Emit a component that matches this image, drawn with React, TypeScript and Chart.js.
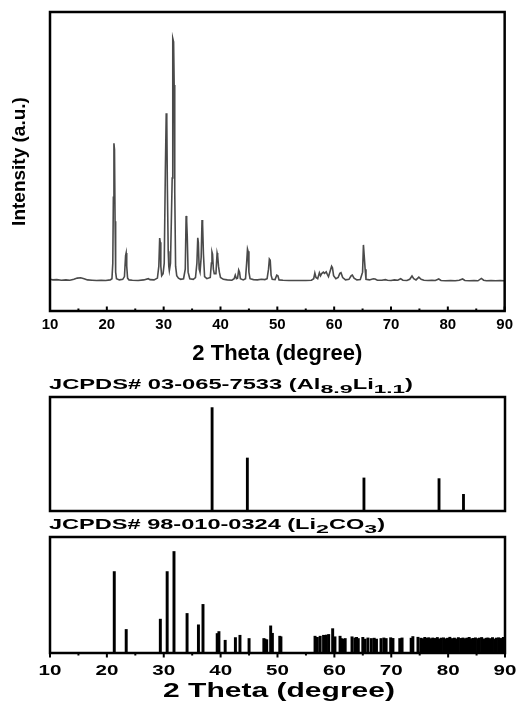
import { useEffect, useRef } from 'react';
import { Chart, registerables } from 'chart.js';

Chart.register(...registerables);

const FONT = '"Liberation Sans", Arial, Helvetica, sans-serif';

// ---------- data ----------
const xTickValues = [10, 20, 30, 40, 50, 60, 70, 80, 90];
const xTickLabels = ['10', '20', '30', '40', '50', '60', '70', '80', '90'];
const xAxisTitle = '2 Theta (degree)';
const yAxisTitle = 'Intensity (a.u.)';

// measured XRD pattern (2θ, intensity a.u.)
const xrdTheta = [
  10.0, 10.5, 11.2, 12.0, 12.8, 13.5, 14.2, 14.8, 15.4, 16.0, 16.6, 17.4, 18.2, 19.0, 19.8, 20.6,
  20.9, 21.05, 21.15, 21.25, 21.35, 21.45, 21.55, 21.7, 22.2, 22.8, 23.1, 23.3, 23.4, 23.5, 23.65,
  23.9, 24.5, 25.5, 26.5, 27.3, 27.6, 28.3, 28.9, 29.15, 29.3, 29.4, 29.5, 29.65, 29.9, 30.1, 30.3,
  30.45, 30.55, 30.65, 30.8, 30.9, 31.0, 31.2, 31.35, 31.5, 31.6, 31.75, 31.85, 31.95, 32.1, 32.3,
  32.6, 33.0, 33.5, 33.8, 33.95, 34.05, 34.15, 34.3, 34.6, 35.2, 35.6, 35.85, 36.0, 36.1, 36.25,
  36.4, 36.6, 36.75, 36.85, 37.0, 37.2, 37.6, 38.2, 38.4, 38.5, 38.6, 38.75, 38.9, 39.2, 39.4, 39.5,
  39.65, 39.8, 40.0, 40.5, 41.2, 42.0, 42.4, 42.6, 42.8, 43.0, 43.2, 43.35, 43.5, 44.0, 44.4, 44.6,
  44.75, 44.85, 45.0, 45.2, 45.8, 46.5, 47.2, 47.8, 48.2, 48.45, 48.6, 48.75, 48.9, 49.1, 49.6,
  49.9, 50.1, 50.3, 51.0, 52.0, 53.0, 54.0, 55.0, 56.0, 56.4, 56.6, 56.8, 57.1, 57.4, 57.6, 57.8,
  58.1, 58.3, 58.6, 58.8, 59.0, 59.3, 59.55, 59.7, 59.9, 60.3, 60.7, 61.0, 61.2, 61.5, 62.0, 62.6,
  63.0, 63.2, 63.5, 64.0, 64.6, 65.0, 65.15, 65.3, 65.45, 65.6, 66.2, 66.9, 67.2, 67.6, 68.4, 69.0,
  69.4, 70.0, 70.6, 71.2, 71.7, 72.1, 72.8, 73.3, 73.7, 74.0, 74.4, 74.9, 75.3, 75.8, 76.5, 77.2,
  77.8, 78.4, 78.8, 79.6, 80.5, 81.3, 82.0, 82.6, 83.0, 83.8, 84.6, 85.3, 85.9, 86.3, 86.8, 87.6,
  88.4, 89.2, 90.0,
];
const xrdIntensity = [
  106, 104, 105, 103, 104, 103, 106, 110, 111, 108, 104, 103, 102, 103, 102, 104,
  108, 160, 380, 561, 540, 300, 130, 108, 104, 106, 115, 185, 194, 150, 110,
  104, 103, 102, 104, 108, 105, 104, 110, 150, 244, 230, 150, 118, 125, 160, 472,
  661, 640, 420, 200, 150, 135, 160, 300, 445, 912, 900, 756, 400, 150, 118,
  110, 106, 108, 140, 318, 300, 250, 130, 108, 106, 112, 160, 245, 230, 140,
  130, 180, 304, 290, 190, 115, 108, 112, 160, 197, 190, 140, 125, 125, 194, 185,
  150, 130, 112, 106, 104, 103, 108, 120, 108, 110, 137, 130, 108, 104, 108, 160,
  207, 200, 130, 108, 105, 104, 106, 105, 108, 140, 174, 170, 120, 106, 105,
  120, 118, 104, 103, 102, 102, 102, 102, 103, 108, 127, 112, 108, 128, 118, 125,
  130, 126, 131, 122, 115, 134, 150, 145, 118, 108, 112, 126, 128, 112, 104, 106,
  118, 120, 110, 104, 105, 130, 221, 181, 140, 106, 104, 108, 107, 103, 103, 105,
  103, 102, 104, 103, 108, 103, 102, 106, 117, 108, 104, 113, 106, 103, 102, 103,
  102, 107, 102, 101, 102, 101, 103, 107, 102, 101, 102, 101, 109, 103, 101, 102,
  101, 102, 101,
];

// JCPDS# 03-065-7533 (Al8.9Li1.1) reference lines (2θ, relative intensity %)
const alLiTheta = [38.5, 44.7, 65.2, 78.4, 82.7];
const alLiIntensity = [90.7, 46.5, 29, 28.4, 14.6];

// JCPDS# 98-010-0324 (Li2CO3) reference lines (2θ, relative intensity %)
const li2co3Theta = [
  21.3, 23.4, 29.4, 30.6, 31.8, 34.1, 36.1, 36.9, 39.4, 39.7, 40.8, 42.6, 43.4, 45.0, 47.6, 47.8,
  48.1, 48.8, 49.1, 50.4, 50.6, 56.6, 57.0, 57.5, 58.1, 58.3, 58.6, 59.0, 59.7, 60.1, 61.0, 61.2,
  61.6, 61.9, 63.1, 63.6, 63.9, 64.2, 65.0, 65.4, 65.9, 66.5, 67.0, 67.4, 68.2, 68.7, 69.1, 69.9,
  70.3, 71.5, 71.9, 73.5, 73.8, 74.7, 75.2, 75.6, 75.9, 76.3, 76.6, 77.0, 77.3, 77.7, 78.1, 78.4,
  78.8, 79.2, 79.6, 79.9, 80.3, 80.7, 81.1, 81.4, 81.8, 82.2, 82.6, 82.9, 83.3, 83.7, 84.0, 84.4,
  84.8, 85.2, 85.5, 85.9, 86.3, 86.7, 87.0, 87.4, 87.8, 88.2, 88.5, 88.9, 89.3, 89.7,
];
const li2co3Intensity = [
  70.2, 20.3, 29.2, 70.2, 87.5, 34.1, 24.3, 41.9, 16.8, 18.5, 11, 13.3, 15.3, 12.5, 12.5, 12,
  11.5, 23.4, 17, 14.5, 14, 14.5, 13.5, 14.5, 15.3, 14, 15.5, 16, 21, 14, 14.5, 12.5,
  12, 12.5, 14, 13, 13.5, 12.5, 13.5, 12, 13, 12.5, 12.8, 12, 12.5, 13, 12.5, 13.2,
  12.6, 12.5, 13, 12.8, 14.2, 13.6, 12.8, 12.4, 13.5, 12.8, 13.2, 12.4, 13.0, 12.6, 13.4, 12.2,
  12.9, 13.1, 12.3, 12.8, 13.6, 12.5, 12.9, 12.2, 13.3, 12.6, 13.0, 12.4, 12.9, 13.5, 12.3, 12.7,
  13.1, 12.4, 12.9, 13.4, 12.2, 12.8, 13.0, 12.5, 13.3, 12.1, 12.9, 13.2, 12.6, 13.5,
];

// ---------- helpers ----------
type Seg = { t: string; size: number; sx: number; sy?: number; dy?: number };

function drawSegs(ctx: CanvasRenderingContext2D, segs: Seg[], x: number, y: number, align: 'left' | 'center' = 'left') {
  let total = 0;
  for (const s of segs) {
    ctx.font = `bold ${s.size}px ${FONT}`;
    total += ctx.measureText(s.t).width * s.sx;
  }
  let cx = align === 'center' ? x - total / 2 : x;
  for (const s of segs) {
    ctx.save();
    ctx.font = `bold ${s.size}px ${FONT}`;
    ctx.fillStyle = '#000';
    ctx.textAlign = 'left';
    ctx.textBaseline = 'alphabetic';
    ctx.translate(cx, y + (s.dy || 0));
    ctx.scale(s.sx, s.sy || 1);
    ctx.fillText(s.t, 0, 0);
    const w = ctx.measureText(s.t).width * s.sx;
    ctx.restore();
    cx += w;
  }
}

function framePlugin(tickDir: number, major: number, minor: number, drawTicks: boolean) {
  return {
    id: 'frame',
    afterDatasetsDraw(chart: any) {
      const { ctx, chartArea: a } = chart;
      const x = chart.scales.x;
      ctx.save();
      ctx.strokeStyle = '#000';
      if (drawTicks) {
        ctx.lineWidth = 2;
        x.ticks.forEach((t: any) => {
          const px = x.getPixelForValue(t.value);
          const len = t.value % 10 === 0 ? major : minor;
          ctx.beginPath();
          ctx.moveTo(px, a.bottom);
          ctx.lineTo(px, a.bottom + tickDir * len);
          ctx.stroke();
        });
      }
      ctx.lineWidth = 2.5;
      ctx.strokeRect(a.left, a.top, a.right - a.left, a.bottom - a.top);
      ctx.restore();
    },
  };
}

function labelFor(v: number) {
  const i = xTickValues.indexOf(v);
  return i >= 0 ? xTickLabels[i] : '';
}

// ---------- configs ----------
function topConfig(): any {
  return {
    type: 'line',
    data: {
      datasets: [
        {
          data: xrdTheta.map((t, i) => ({ x: t, y: xrdIntensity[i] })),
          borderColor: '#4a4a4a',
          borderWidth: 1.6,
          pointRadius: 0,
          tension: 0,
          fill: false,
        },
      ],
    },
    options: {
      animation: false,
      responsive: false,
      devicePixelRatio: 1,
      layout: { padding: { top: 12, right: 13, left: 0, bottom: 0 } },
      plugins: { legend: { display: false }, tooltip: { enabled: false } },
      scales: {
        x: {
          type: 'linear',
          min: 10,
          max: 90,
          grid: { display: false, drawTicks: false },
          border: { display: false },
          ticks: {
            stepSize: 5,
            autoSkip: false,
            maxRotation: 0,
            padding: 5,
            color: '#000',
            font: { family: FONT, size: 15, weight: 'bold' },
            callback: (v: number) => labelFor(v),
          },
          title: {
            display: true,
            text: xAxisTitle,
            color: '#000',
            font: { family: FONT, size: 22, weight: 'bold', lineHeight: 1 },
            padding: { top: 0, bottom: 0 },
          },
          afterFit: (s: any) => {
            s.height = 54;
          },
        },
        y: {
          type: 'linear',
          min: 0,
          max: 1000,
          grid: { display: false, drawTicks: false },
          border: { display: false },
          ticks: { display: false },
          title: {
            display: true,
            text: yAxisTitle,
            color: '#000',
            font: { family: FONT, size: 19, weight: 'bold', lineHeight: 1.2 },
            padding: { top: 8.6, bottom: 0 },
          },
          afterFit: (s: any) => {
            s.width = 50;
          },
        },
      },
    },
    plugins: [framePlugin(-1, 4.5, 2.5, true)],
  };
}

function stickOptions(padTop: number, padBottom: number) {
  return {
    animation: false,
    responsive: false,
    devicePixelRatio: 1,
    layout: { padding: { top: padTop, right: 13, left: 50, bottom: padBottom } },
    plugins: { legend: { display: false }, tooltip: { enabled: false } },
    scales: {
      x: {
        type: 'linear',
        min: 10,
        max: 90,
        offset: false,
        display: false,
        ticks: { stepSize: 5, autoSkip: false },
      },
      y: { type: 'linear', min: 0, max: 100, display: false },
    },
  };
}

function midConfig(): any {
  return {
    type: 'bar',
    data: {
      datasets: [
        {
          data: alLiTheta.map((t, i) => ({ x: t, y: alLiIntensity[i] })),
          backgroundColor: '#000',
          borderWidth: 0,
          barThickness: 2.2,
        },
      ],
    },
    options: stickOptions(37, 9),
    plugins: [
      framePlugin(1, 0, 0, false),
      {
        id: 'midText',
        afterDraw(chart: any) {
          const ctx = chart.ctx;
          drawSegs(
            ctx,
            [
              { t: 'JCPDS# 03-065-7533 (Al', size: 15, sx: 1.58 },
              { t: '8.9', size: 15, sx: 1.55, sy: 0.78, dy: 4 },
              { t: 'Li', size: 15, sx: 1.58 },
              { t: '1.1', size: 15, sx: 1.5, sy: 0.78, dy: 4 },
              { t: ')', size: 15, sx: 1.58 },
            ],
            49,
            29.3
          );
        },
      },
    ],
  };
}

function botConfig(): any {
  return {
    type: 'bar',
    data: {
      datasets: [
        {
          data: li2co3Theta.map((t, i) => ({ x: t, y: li2co3Intensity[i] })),
          backgroundColor: '#000',
          borderWidth: 0,
          barThickness: 2.3,
        },
      ],
    },
    options: stickOptions(32, 48),
    plugins: [
      framePlugin(1, 4.5, 2.5, true),
      {
        id: 'botText',
        afterDraw(chart: any) {
          const ctx = chart.ctx;
          const x = chart.scales.x;
          drawSegs(
            ctx,
            [
              { t: 'JCPDS# 98-010-0324 (Li', size: 15, sx: 1.57 },
              { t: '2', size: 15, sx: 1.55, sy: 0.78, dy: 4 },
              { t: 'CO', size: 15, sx: 1.57 },
              { t: '3', size: 15, sx: 1.55, sy: 0.78, dy: 4 },
              { t: ')', size: 15, sx: 1.57 },
            ],
            49,
            24.3
          );
          x.ticks.forEach((t: any) => {
            const lab = labelFor(t.value);
            if (!lab) return;
            drawSegs(ctx, [{ t: lab, size: 14, sx: 1.47 }], x.getPixelForValue(t.value), 170, 'center');
          });
          drawSegs(ctx, [{ t: xAxisTitle, size: 19.5, sx: 1.54 }], 279, 191.7, 'center');
        },
      },
    ],
  };
}

export default function App() {
  const topRef = useRef<HTMLCanvasElement>(null);
  const midRef = useRef<HTMLCanvasElement>(null);
  const botRef = useRef<HTMLCanvasElement>(null);

  useEffect(() => {
    const charts = [
      new Chart(topRef.current as HTMLCanvasElement, topConfig()),
      new Chart(midRef.current as HTMLCanvasElement, midConfig()),
      new Chart(botRef.current as HTMLCanvasElement, botConfig()),
    ];
    return () => charts.forEach((c) => c.destroy());
  }, []);

  const cv = (top: number, h: number): React.CSSProperties => ({
    position: 'absolute',
    left: 0,
    top,
    width: 518,
    height: h,
    display: 'block',
  });

  return (
    <div style={{ position: 'fixed', left: 0, top: 0, width: 518, height: 701, background: '#fff', overflow: 'hidden' }}>
      <canvas ref={topRef} width={518} height={365} style={cv(0, 365)} />
      <canvas ref={midRef} width={518} height={160} style={cv(360, 160)} />
      <canvas ref={botRef} width={518} height={196} style={cv(505, 196)} />
    </div>
  );
}
